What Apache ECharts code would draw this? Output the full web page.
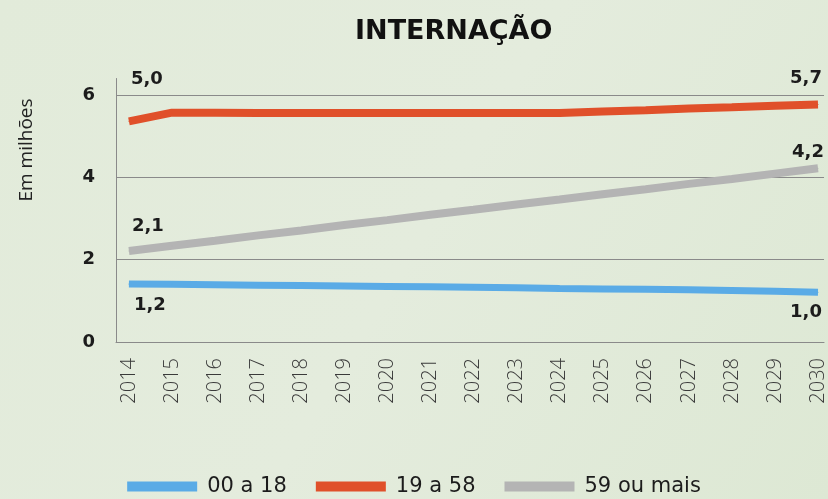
<!DOCTYPE html>
<html>
<head>
<meta charset="utf-8">
<script src="https://cdn.jsdelivr.net/npm/echarts@6/dist/echarts.min.js"></script>
<style>
  html, body { margin: 0; padding: 0; }
  #chart { width: 828px; height: 499px; }
</style>
</head>
<body>
<div id="chart"></div>
<script>
const anos = [2014, 2015, 2016, 2017, 2018, 2019, 2020, 2021, 2022, 2023, 2024, 2025, 2026, 2027, 2028, 2029, 2030];
const faixa00a18 = [1.41, 1.40, 1.39, 1.38, 1.37, 1.36, 1.35, 1.34, 1.33, 1.32, 1.30, 1.29, 1.28, 1.27, 1.25, 1.23, 1.21];
const faixa19a58 = [5.36, 5.57, 5.57, 5.56, 5.56, 5.56, 5.56, 5.56, 5.56, 5.56, 5.56, 5.60, 5.63, 5.67, 5.70, 5.74, 5.77];
const faixa59mais = [2.21, 2.34, 2.46, 2.59, 2.71, 2.84, 2.96, 3.09, 3.21, 3.34, 3.46, 3.59, 3.71, 3.84, 3.96, 4.09, 4.22];
// rótulos impressos no início e no fim de cada linha
const rotulos00a18 = ["1,2", "1,0"];
const rotulos19a58 = ["5,0", "5,7"];
const rotulos59mais = ["2,1", "4,2"];
const yTicks = [0, 2, 4, 6];

const labelFont = { fontFamily: "DejaVu Sans", fontWeight: "bold", fontSize: 18, color: "#1c1c1c" };

function montar(valores, rotulos, offInicio, offFim) {
  return valores.map((v, i) => {
    const item = { value: [anos[i], v] };
    if (i === 0 || i === valores.length - 1) {
      item.label = Object.assign({
        show: true,
        position: "inside",
        formatter: i === 0 ? rotulos[0] : rotulos[1],
        offset: i === 0 ? offInicio : offFim
      }, labelFont);
    }
    return item;
  });
}

function serie(nome, cor, largura, dados) {
  return {
    name: nome,
    type: "line",
    data: dados,
    symbol: "circle",
    symbolSize: 1,
    showSymbol: true,
    showAllSymbol: true,
    lineStyle: { color: cor, width: largura, cap: "butt" },
    itemStyle: { color: cor },
    emphasis: { disabled: true },
    z: 3
  };
}

const chart = echarts.init(document.getElementById("chart"));
chart.setOption({
  backgroundColor: {
    type: "linear", x: 0, y: 0, x2: 1, y2: 1,
    colorStops: [
      { offset: 0, color: "#e2ebda" },
      { offset: 0.5, color: "#e4ecdd" },
      { offset: 1, color: "#dde8d4" }
    ]
  },
  animation: false,
  title: {
    text: "INTERNAÇÃO",
    left: 350,
    top: 13,
    textStyle: { fontFamily: "DejaVu Sans", fontWeight: "bold", fontSize: 27, color: "#111" }
  },
  grid: { left: 116, right: 2, top: 78.5, bottom: 157 },
  legend: {
    top: 471,
    left: "center",
    itemWidth: 70,
    itemHeight: 10,
    itemGap: 29,
    icon: "rect",
    textStyle: { fontFamily: "DejaVu Sans", fontSize: 21, color: "#1c1c1c", padding: [0, 0, 0, 5] },
    data: ["00 a 18", "19 a 58", "59 ou mais"]
  },
  graphic: [{
    type: "text",
    x: 27,
    y: 150,
    rotation: Math.PI / 2,
    style: {
      text: "Em milhões",
      fontFamily: "Open Sans",
      fontSize: 19,
      fill: "#222",
      align: "center",
      verticalAlign: "middle"
    }
  }],
  xAxis: {
    type: "value",
    min: 2013.7,
    max: 2030.14,
    axisLine: { show: true, onZero: false, lineStyle: { color: "#8a8a8a", width: 1 } },
    axisTick: { show: false, customValues: anos },
    splitLine: { show: false },
    axisLabel: {
      customValues: anos,
      rotate: 90,
      margin: 16,
      fontFamily: "Open Sans",
      fontWeight: 300,
      fontSize: 20,
      color: "#3a3a3a",
      formatter: v => String(v)
    }
  },
  yAxis: {
    type: "value",
    min: 0,
    max: 6.4,
    interval: 2,
    axisLine: { show: true, lineStyle: { color: "#8a8a8a", width: 1 } },
    axisTick: { show: false },
    splitLine: { show: true, showMaxLine: false, lineStyle: { color: "#8a8a8a", width: 1 } },
    axisLabel: {
      margin: 21,
      fontFamily: "DejaVu Sans",
      fontWeight: "bold",
      fontSize: 18,
      color: "#1c1c1c",
      formatter: v => (yTicks.includes(v) ? String(v) : "")
    }
  },
  series: [
    serie("00 a 18", "#5aabe6", 7, montar(faixa00a18, rotulos00a18, [21, 21], [-12, 20])),
    serie("19 a 58", "#e0502a", 8, montar(faixa19a58, rotulos19a58, [18, -42], [-12, -26])),
    serie("59 ou mais", "#b4b4b4", 8, montar(faixa59mais, rotulos59mais, [19, -25], [-10, -16]))
  ]
});
</script>
</body>
</html>
